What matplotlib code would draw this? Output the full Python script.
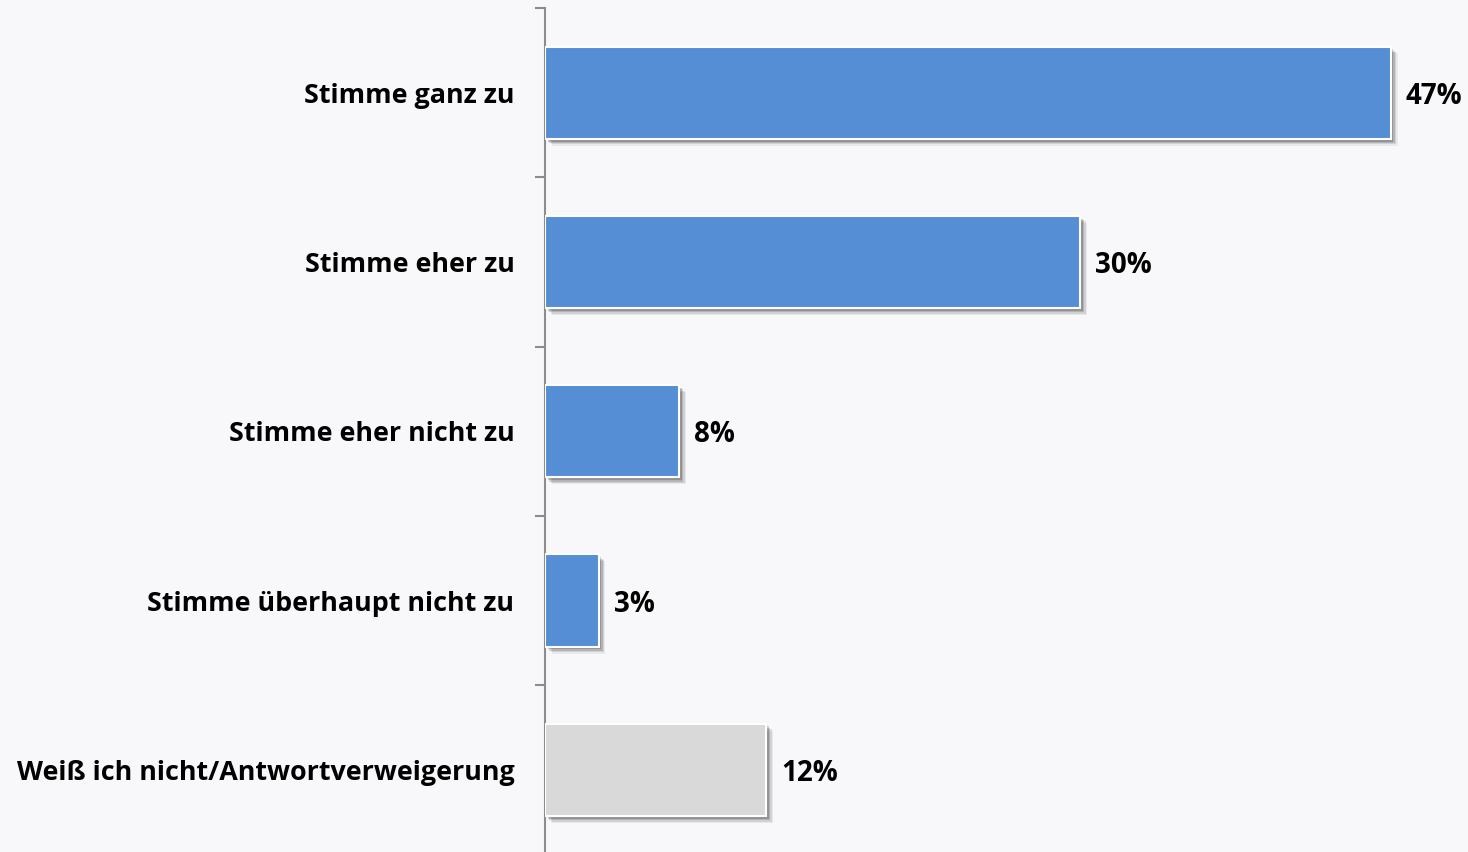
import matplotlib
matplotlib.use("Agg")
import matplotlib.pyplot as plt
import matplotlib.patheffects as pe
import numpy as np

# survey answers, top to bottom
categories = ["Stimme ganz zu", "Stimme eher zu", "Stimme eher nicht zu",
              "Stimme überhaupt nicht zu", "Weiß ich nicht/Antwortverweigerung"]
values = [47.4, 30.0, 7.52, 3.0, 12.4]
labels = ["47%", "30%", "8%", "3%", "12%"]
colors = ["#558ED5", "#558ED5", "#558ED5", "#558ED5", "#D9D9D9"]

bg = "#F8F8FA"
plt.rcParams['font.family'] = ['Open Sans', 'DejaVu Sans']

fig = plt.figure(figsize=(14.68, 8.52), dpi=100, facecolor=bg)
ax = fig.add_axes([545 / 1468, -2.5 / 852, 923 / 1468, 846.5 / 852])
ax.set_facecolor(bg)

y = np.arange(len(categories))
# fake a soft drop shadow by stacking offset copies
shadow = [
    pe.SimplePatchShadow(offset=(5, -5), shadow_rgbFace="#000000", alpha=0.06),
    pe.SimplePatchShadow(offset=(4, -4), shadow_rgbFace="#000000", alpha=0.10),
    pe.SimplePatchShadow(offset=(3, -3), shadow_rgbFace="#000000", alpha=0.14),
    pe.SimplePatchShadow(offset=(2, -2), shadow_rgbFace="#000000", alpha=0.18),
    pe.Normal(),
]
bars = ax.barh(y, values, height=0.545, color=colors, edgecolor="white",
               linewidth=1.5, zorder=3)
for b in bars:
    b.set_path_effects(shadow)

for yi, v, t in zip(y, values, labels):
    ax.text(v + 0.85, yi, t, va="center_baseline", ha="left", fontsize=20,
            fontweight="bold", color="black")

ax.set_xlim(0, 923 / 17.84)
ax.set_ylim(len(categories) - 0.5, -0.5)

ax.set_yticks(y)
ax.set_yticklabels(categories, fontsize=19.4, fontweight="bold")
ax.tick_params(axis="y", which="major", length=0, pad=22)
ax.set_yticks(np.arange(len(categories)) - 0.5, minor=True)
ax.tick_params(axis="y", which="minor", length=7, width=1.5, color="#8C8C8C")
ax.set_xticks([])

for s in ["top", "right", "bottom"]:
    ax.spines[s].set_visible(False)
ax.spines["left"].set_color("#8C8C8C")
ax.spines["left"].set_linewidth(1.5)

fig.savefig("out.png", dpi=100, facecolor=bg)
